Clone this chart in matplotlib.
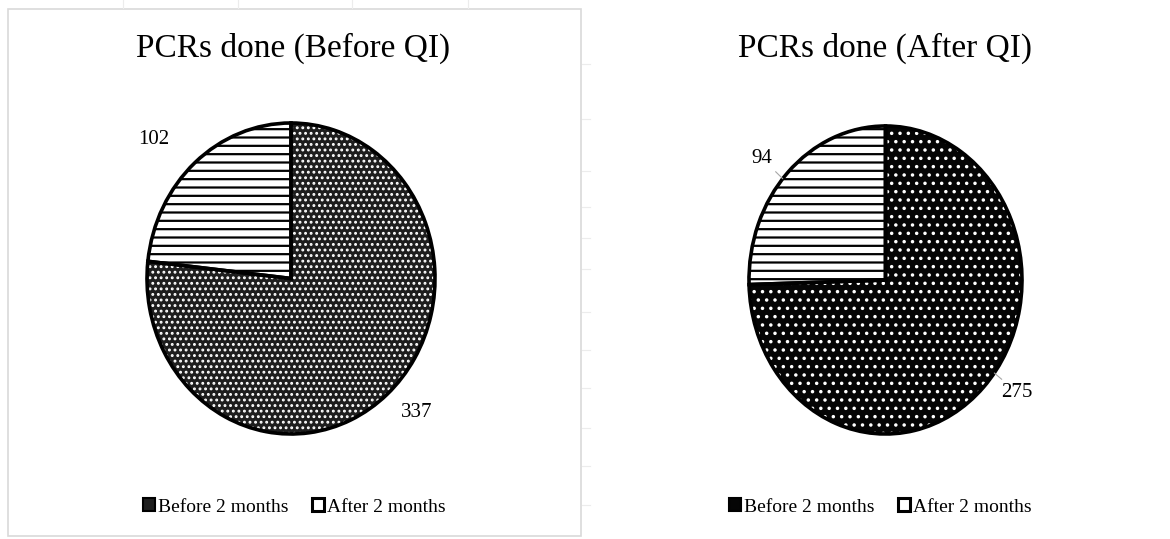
import numpy as np
import matplotlib
matplotlib.use('Agg')
import matplotlib.pyplot as plt
from matplotlib.patches import Patch, Rectangle

plt.rcParams['font.family'] = ['Liberation Serif', 'DejaVu Serif']

# data
categories = ['Before 2 months', 'After 2 months']
before_qi = [337, 102]
after_qi = [275, 94]
titles = ['PCRs done (Before QI)', 'PCRs done (After QI)']

W, H = 1170, 539
fig = plt.figure(figsize=(W / 100, H / 100), dpi=100)


def px_axes(x0, y0, x1, y1):
    # pixel box (top-left origin) -> axes
    return fig.add_axes([x0 / W, (H - y1) / H, (x1 - x0) / W, (y1 - y0) / H])


def set_hatch_lw(p, lw):
    if hasattr(p, 'set_hatch_linewidth'):
        p.set_hatch_linewidth(lw)


def draw_pie(ax, values, dot_face, dot_hatch, label_r, label_shift, leaders):
    plt.rcParams['hatch.linewidth'] = 1.3
    wedges, _ = ax.pie(values, startangle=90, counterclock=False, radius=1)
    # slice 0: dark with white dots, slice 1: white with black lines
    wedges[0].set_facecolor(dot_face)
    wedges[0].set_edgecolor('white')
    wedges[0].set_hatch(dot_hatch)
    wedges[0].set_linewidth(0)
    set_hatch_lw(wedges[0], 1.3)
    wedges[1].set_facecolor('white')
    wedges[1].set_edgecolor('black')
    wedges[1].set_hatch('--')
    wedges[1].set_linewidth(0)
    set_hatch_lw(wedges[1], 1.6)
    # outlines
    ax.pie(values, startangle=90, counterclock=False, radius=1,
           wedgeprops=dict(facecolor='none', edgecolor='black', linewidth=2.6, clip_on=False))
    ax.set_xlim(-1, 1)
    ax.set_ylim(-1, 1)
    ax.set_aspect('auto')

    total = sum(values)
    start = 90.0
    for i, v in enumerate(values):
        span = 360.0 * v / total
        mid = np.deg2rad(start - span / 2)
        start -= span
        r = label_r[i]
        la = mid + np.deg2rad(label_shift[i])
        tx, ty = r * np.cos(la), r * np.sin(la)
        if leaders:
            ax.annotate(str(v), xy=(np.cos(la), np.sin(la)), xytext=(tx, ty),
                        ha='center', va='center', fontsize=15, annotation_clip=False,
                        arrowprops=dict(arrowstyle='-', color='#a6a6a6', lw=0.8,
                                        shrinkA=1, shrinkB=0))
        else:
            ax.text(tx, ty, str(v), ha='center', va='center', fontsize=15, clip_on=False)


# left chart frame
fig.patches.append(Rectangle((7.5 / W, (H - 535.5) / H), (581 - 7.5) / W, (535.5 - 8.5) / H,
                             transform=fig.transFigure, facecolor='none',
                             edgecolor='#d9d9d9', linewidth=1.2))
# faint sheet gridlines around the frame
for gx in [123, 238, 352, 468]:
    fig.add_artist(plt.Line2D([gx / W, gx / W], [1, (H - 8) / H], color='#ececec', lw=0.8))
for gy in [64, 119, 171, 207, 238, 269, 312, 350, 388, 428, 466, 505]:
    fig.add_artist(plt.Line2D([582 / W, 590 / W], [(H - gy) / H, (H - gy) / H], color='#ececec', lw=0.8))

ax1 = px_axes(147, 123, 435, 434)
draw_pie(ax1, before_qi, '#1e1e1e', '...', [1.23, 1.31], [3.6, 5.0], False)

ax2 = px_axes(749, 126, 1022, 434)
draw_pie(ax2, after_qi, '#050505', '..', [1.21, 1.2], [7.0, 3.0], True)

fig.text(293 / W, 1 - 48 / H, titles[0], ha='center', va='center', fontsize=24)
fig.text(885 / W, 1 - 48 / H, titles[1], ha='center', va='center', fontsize=24)

# legends
for cx, dface in [(294, '#1e1e1e'), (880, '#050505')]:
    handles = [Patch(facecolor=dface, edgecolor='black', linewidth=1.5, label=categories[0]),
               Patch(facecolor='white', edgecolor='black', linewidth=2.2, label=categories[1])]
    fig.legend(handles=handles, loc='center', bbox_to_anchor=(cx / W, 1 - 507 / H),
               ncol=2, frameon=False, fontsize=14, handlelength=0.62, handleheight=0.62,
               handletextpad=0.15, columnspacing=1.2, borderpad=0)

fig.savefig('out.png', dpi=100)
